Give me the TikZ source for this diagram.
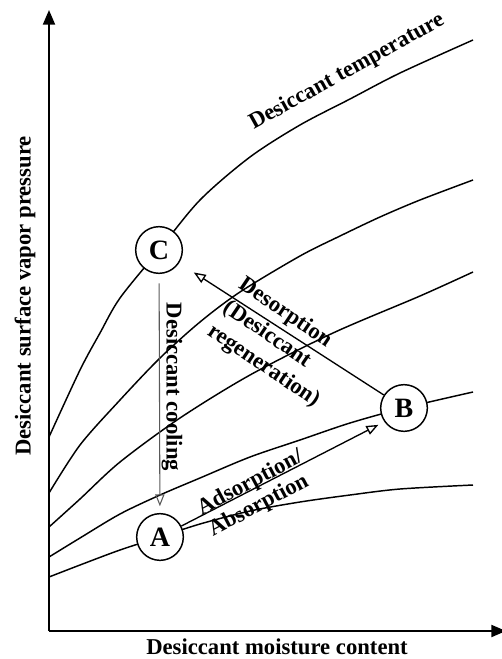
\documentclass[tikz,border=0pt]{standalone}
\usepackage{fontspec}
\setmainfont{Liberation Serif}
\usetikzlibrary{arrows.meta}
\begin{document}
\begin{tikzpicture}[x=0.75pt,y=0.75pt,
  every node/.style={font=\bfseries\fontsize{17}{20}\selectfont},
  curve/.style={line width=1.1pt},
  axis/.style={line width=1.5pt,-{Triangle[length=11pt,width=9pt]}},
  state/.style={draw, circle, fill=white, line width=1.1pt, minimum size=35pt, inner sep=0pt, font=\bfseries\fontsize{21}{21}\selectfont},
  flow/.style={line width=1pt,-{Triangle[open,length=9pt,width=7pt]}}]
\useasboundingbox (0,0) rectangle (501,-659);

% axes
\coordinate (O) at (49,-631);
\coordinate (ytop) at (49,-10);
\coordinate (xend) at (506,-631);
\draw[axis] (O) -- (ytop);
\draw[axis] (O) -- (xend);

% isotherms
\draw[curve] plot[smooth] coordinates {(49,-437) (80,-370) (100,-333) (120,-298) (159,-250) (200,-200) (250,-157) (300,-125) (350,-99) (400,-73) (473,-40)};
\draw[curve] plot[smooth] coordinates {(49,-493) (80,-445) (120,-400) (160,-358) (200,-322) (240,-292) (300,-256) (340,-236) (380,-217) (420,-200) (473,-180)};
\draw[curve] plot[smooth] coordinates {(49,-527) (80,-499) (120,-462) (180,-418) (250,-375) (333,-333) (420,-296) (473,-272)};
\draw[curve] plot[smooth] coordinates {(49,-557) (80,-538) (120,-514) (160,-495) (200,-478) (250,-457) (300,-440) (350,-423) (404,-408) (473,-392)};
\draw[curve] plot[smooth] coordinates {(49,-577) (80,-565) (120,-550) (160,-537) (200,-524) (250,-511) (300,-502) (350,-495) (400,-489) (473,-485)};

% states
\node[state] (C) at (159,-250) {C};
\node[state] (A) at (160,-537) {A};
\node[state] (B) at (404,-408) {B};

\draw[flow, draw=black!65, line width=0.8pt, shorten <=7pt, shorten >=5pt] (C) -- (A);
\draw[flow, shorten >=5pt] (A) -- (B.215);
\draw[flow, shorten >=13pt] (B) -- (C);

% labels
\node[rotate=29] (templbl) at (347,-72) {Desiccant temperature};
\node[rotate=90] (ylbl) at (25,-296) {Desiccant surface vapor pressure};
\node (xlbl) at (277,-647) {Desiccant moisture content};
\node[rotate=-90] (coollbl) at (172,-387) {Desiccant cooling};
\node[rotate=-34, align=left, font=\bfseries\fontsize{17}{21}\selectfont] (desorb) at (279,-343) {Desorption\\(Desiccant\\regeneration)};
\node[rotate=28, align=left, font=\bfseries\fontsize{17}{18}\selectfont] (adsorb) at (256,-494) {Adsorption/\\Absorption};
\end{tikzpicture}
\end{document}
